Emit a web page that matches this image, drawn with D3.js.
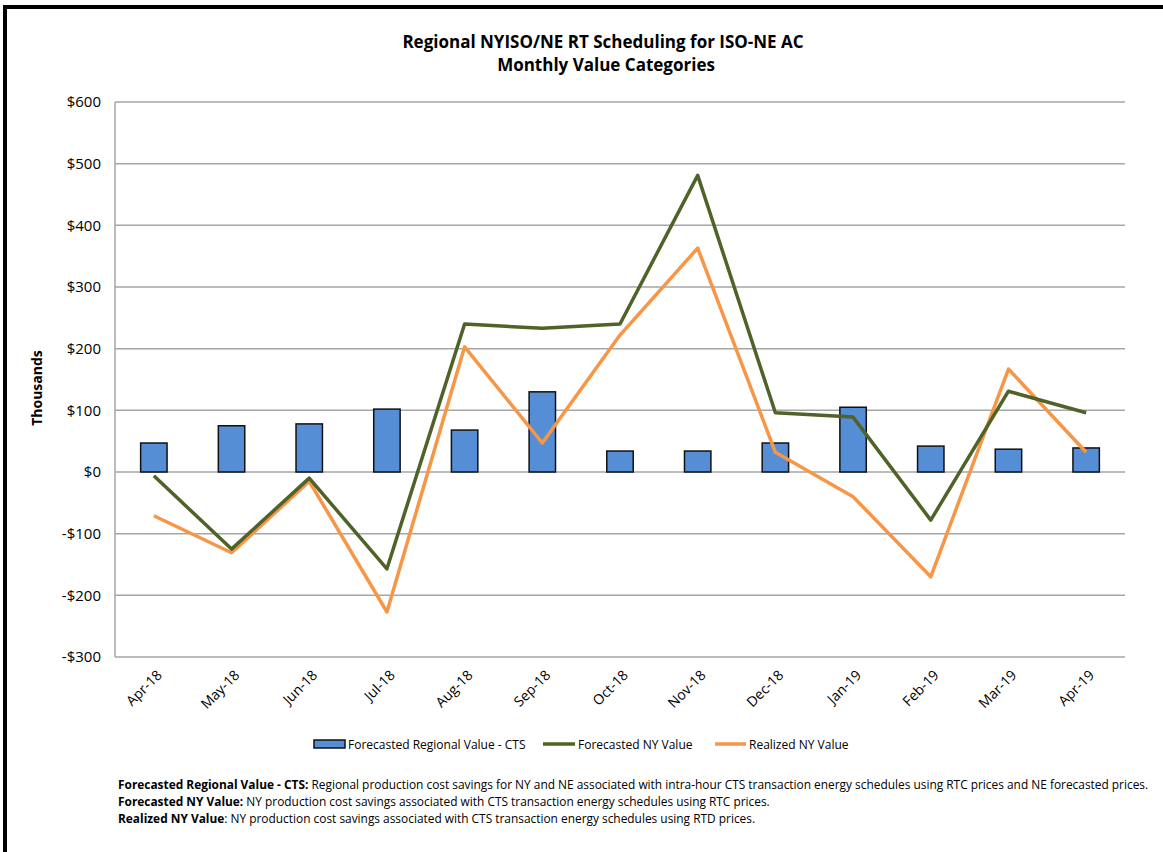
<!DOCTYPE html>
<html>
<head>
<meta charset="utf-8">
<script src="https://cdn.jsdelivr.net/npm/d3@7"></script>
<style>
  body { margin: 0; background: #fff; }
  svg text { font-family: "Open Sans", sans-serif; fill: #000; }
</style>
</head>
<body>
<div id="chart"></div>
<script>
// data (thousands of dollars)
let months = ["Apr-18","May-18","Jun-18","Jul-18","Aug-18","Sep-18","Oct-18","Nov-18","Dec-18","Jan-19","Feb-19","Mar-19","Apr-19"];
let regionalCTS = [47, 75, 78, 102, 68, 130, 34, 34, 47, 105, 42, 37, 39];
let forecastNY = [-6, -125, -10, -157, 240, 233, 240, 481, 96, 89, -78, 131, 96];
let realizedNY = [-71, -131, -15, -227, 203, 47, 222, 363, 32, -40, -170, 167, 32];
let yTicks = [-300, -200, -100, 0, 100, 200, 300, 400, 500, 600];

let seriesNames = ["Forecasted Regional Value - CTS", "Forecasted NY Value", "Realized NY Value"];
let notes = [
  ["Forecasted Regional Value - CTS:", " Regional production cost savings for NY and NE associated with intra-hour CTS transaction energy schedules using RTC prices and NE forecasted prices."],
  ["Forecasted NY Value:", " NY production cost savings associated with CTS transaction energy schedules using RTC prices."],
  ["Realized NY Value", ": NY production cost savings associated with CTS transaction energy schedules using RTD prices."]
];

let svgWidth = 1163;
let svgHeight = 852;
let blue = "#558ed5", green = "#4f6228", orange = "#f79646";

let svg = d3.select("#chart")
  .append("svg")
  .attr("width", svgWidth)
  .attr("height", svgHeight);

// frame (top and left edges visible)
svg.append("line").attr("x1", 3).attr("x2", svgWidth).attr("y1", 7).attr("y2", 7)
  .attr("stroke", "#000").attr("stroke-width", 4);
svg.append("line").attr("x1", 5).attr("x2", 5).attr("y1", 5).attr("y2", svgHeight)
  .attr("stroke", "#000").attr("stroke-width", 4);

// title
svg.append("text").attr("x", 603).attr("y", 48).attr("text-anchor", "middle")
  .attr("font-size", 17).attr("font-weight", "bold").text("Regional NYISO/NE RT Scheduling for ISO-NE AC");
svg.append("text").attr("x", 606).attr("y", 71).attr("text-anchor", "middle")
  .attr("font-size", 17).attr("font-weight", "bold").text("Monthly Value Categories");

// scales
let xScale = d3.scaleBand().domain(months).range([115, 1125]).paddingInner(0.66).paddingOuter(0.33);
let yScale = d3.scaleLinear().domain([-300, 600]).range([657, 102]);
let xMid = d => xScale(d) + xScale.bandwidth() / 2;

// gridlines
svg.append("g").selectAll("line")
  .data(yTicks)
  .enter().append("line")
  .attr("x1", 115).attr("x2", 1125)
  .attr("y1", d => yScale(d)).attr("y2", d => yScale(d))
  .attr("stroke", "#a6a6a6").attr("stroke-width", 1.5);
svg.append("line").attr("x1", 115).attr("x2", 115).attr("y1", yScale(600)).attr("y2", yScale(-300))
  .attr("stroke", "#a6a6a6").attr("stroke-width", 1.5);

// y axis labels
let yAxis = d3.axisLeft(yScale).tickValues(yTicks).tickSize(0).tickPadding(14)
  .tickFormat(d => (d < 0 ? "-$" : "$") + Math.abs(d));
svg.append("g").attr("transform", "translate(115,0)").call(yAxis)
  .call(g => g.select(".domain").remove())
  .selectAll("text").attr("font-size", 15);

svg.append("text").attr("transform", "translate(42,388) rotate(-90)").attr("text-anchor", "middle")
  .attr("font-size", 14).attr("font-weight", "bold").text("Thousands");

// x axis labels
let xAxis = d3.axisBottom(xScale).tickSize(0).tickPadding(0);
svg.append("g").attr("transform", "translate(0,657)").call(xAxis)
  .call(g => g.select(".domain").remove())
  .selectAll("text")
  .attr("font-size", 14)
  .attr("text-anchor", "end")
  .attr("dy", 0)
  .attr("transform", "translate(9,19) rotate(-45)");

// bars
svg.append("g").selectAll("rect")
  .data(regionalCTS)
  .enter().append("rect")
  .attr("x", (d, i) => xScale(months[i]))
  .attr("y", d => yScale(d))
  .attr("width", xScale.bandwidth())
  .attr("height", d => yScale(0) - yScale(d))
  .attr("fill", blue).attr("stroke", "#111").attr("stroke-width", 1.5);

// lines
let line = d3.line().x((d, i) => xMid(months[i])).y(d => yScale(d));
svg.append("path").datum(realizedNY).attr("d", line)
  .attr("fill", "none").attr("stroke", orange).attr("stroke-width", 3.5).attr("stroke-linejoin", "round");
svg.append("path").datum(forecastNY).attr("d", line)
  .attr("fill", "none").attr("stroke", green).attr("stroke-width", 3.5).attr("stroke-linejoin", "round");

// legend
let lg = svg.append("g");
lg.append("rect").attr("x", 314).attr("y", 740).attr("width", 31).attr("height", 8)
  .attr("fill", blue).attr("stroke", "#111").attr("stroke-width", 1.5);
lg.append("text").attr("x", 348).attr("y", 749).attr("font-size", 12).text(seriesNames[0]);
lg.append("line").attr("x1", 543).attr("x2", 575).attr("y1", 744).attr("y2", 744)
  .attr("stroke", green).attr("stroke-width", 3.5);
lg.append("text").attr("x", 578).attr("y", 749).attr("font-size", 12).text(seriesNames[1]);
lg.append("line").attr("x1", 715).attr("x2", 746).attr("y1", 744).attr("y2", 744)
  .attr("stroke", orange).attr("stroke-width", 3.5);
lg.append("text").attr("x", 749).attr("y", 749).attr("font-size", 12).text(seriesNames[2]);

// footnotes
let ng = svg.append("g");
notes.forEach((n, i) => {
  let t = ng.append("text").attr("x", 118).attr("y", 789 + i * 17).attr("font-size", 11.9);
  t.append("tspan").attr("font-weight", "bold").text(n[0]);
  t.append("tspan").text(n[1]);
});
</script>
</body>
</html>
